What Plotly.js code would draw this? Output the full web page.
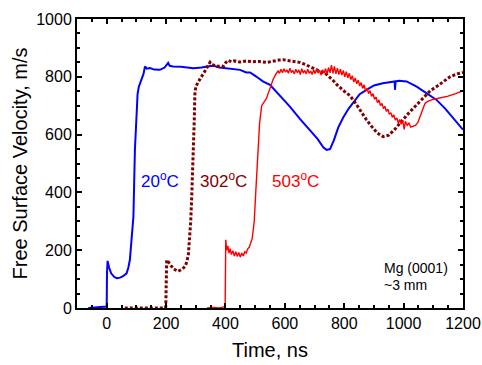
<!DOCTYPE html>
<html>
<head>
<meta charset="utf-8">
<script src="https://cdn.plot.ly/plotly-3.0.1.min.js"></script>
<style>html,body{margin:0;padding:0;background:#fff;}#chart{width:482px;height:365px;}</style>
</head>
<body>
<div id="chart"></div>
<script>
// 20 °C (blue)
const t20 = [-62,-30,0,1,3,8,15,25,34,45,55,67,73,78,84,90,95,100,104,108,118,124,129,135,146,160,179,195,207,212,224,250,292,320,337,360,380,404,430,449,470,483,505,526,550,580,617,650,684,710,730,741,752,765,780,797,815,835,852,875,900,930,960,970,971,973,985,1010,1044,1075,1111,1140,1170,1200];
const v20 = [0,2,5,120,163,140,120,108,103,105,110,120,140,166,230,316,547,650,740,765,790,810,836,828,830,825,824,832,848,838,836,835,830,832,836,838,832,830,828,824,815,815,800,784,772,740,697,655,617,585,555,547,550,580,625,660,690,715,740,755,770,778,784,784,755,784,786,784,766,745,720,690,655,617];

// 302 °C (dark red, dotted)
const t302 = [61,100,150,196,199,200,202,207,215,225,241,255,264,270,275,279,283,286,289,292,295,297,300,307,314,322,331,340,348,355,365,375,385,393,400,409,420,430,449,470,490,514,540,560,580,595,610,630,650,670,690,710,741,760,780,800,819,840,860,875,895,912,931,950,970,988,1005,1020,1044,1065,1090,1111,1135,1156,1180,1200];
const v302 = [0,0,0,0,5,120,166,160,150,135,127,135,144,160,185,230,300,374,450,530,650,740,765,780,790,805,820,835,850,842,838,836,838,836,848,857,852,855,851,855,852,853,850,855,858,859,856,852,850,842,832,822,808,790,768,750,735,706,672,651,625,605,593,598,618,640,660,678,703,725,752,766,785,800,810,815];

// 503 °C (red)
const t503 = [338,360,380,395,399,401,404,408,412,416,420,425,430,435,440,445,450,455,460,465,470,475,480,490,497,502,505,510,515,522,538,550,560,570,
  577,582,587,592,597,602,607,612,617,622,627,632,637,642,647,652,657,662,667,672,677,682,687,692,697,702,707,712,717,722,727,732,737,742,747,752,757,762,767,772,777,782,787,792,797,802,807,812,817,822,827,832,837,842,847,852,857,862,867,872,877,882,887,892,897,902,907,912,917,922,927,932,937,942,947,952,957,962,967,972,977,982,987,992,997,1002,1006,1012,1018,1024,1032,1040,1048,1056,1064,1072,1080,1094,1110,1130,1150,1175,1200];
const v503 = [0,2,0,3,5,236,200,215,190,205,185,198,180,195,178,192,176,190,180,195,190,205,210,240,300,400,450,560,640,700,725,760,790,810,
  820,812,826,814,828,816,824,812,830,815,822,810,826,814,824,808,828,813,822,810,826,812,820,808,824,811,826,813,822,806,824,812,828,810,832,814,840,812,836,810,830,808,826,806,822,800,818,796,812,790,804,782,796,776,788,768,780,760,772,750,760,742,752,732,742,722,730,710,720,700,708,690,698,680,688,670,676,660,668,650,658,640,652,636,648,618,646,632,640,626,630,632,642,665,692,708,714,720,724,728,733,742,752];

const labels = ["20<sup>o</sup>C","302<sup>o</sup>C","503<sup>o</sup>C"];
const labelX = [178,392,636];
const labelY = [443,443,443];
const labelColors = ["#0000ff","#800000","#ff0000"];
const noteLines = ["Mg (0001)","~3 mm"];
const noteY = [139,80];

const font = "Liberation Sans, Arial, sans-serif";

const traces = [
  {x:t20, y:v20, mode:"lines", line:{color:"#0000ff", width:2}, hoverinfo:"skip"},
  {x:t302, y:v302, mode:"lines", line:{color:"#800000", width:3, dash:"3px,2px"}, hoverinfo:"skip"},
  {x:t503, y:v503, mode:"lines", line:{color:"#ff0000", width:1.4}, hoverinfo:"skip"}
];

const annotations = [];
labels.forEach((s,i)=>annotations.push({x:labelX[i], y:labelY[i], xref:"x", yref:"y", text:s, showarrow:false, font:{family:font, size:17, color:labelColors[i]}}));
noteLines.forEach((s,i)=>annotations.push({x:927, y:noteY[i], xref:"x", yref:"y", text:s, showarrow:false, xanchor:"left", font:{family:font, size:14, color:"#000"}}));

const axisCommon = {
  showgrid:false, zeroline:false, showline:true, linecolor:"#000", linewidth:2,
  mirror:"ticks", ticks:"inside", ticklen:5, tickwidth:2, tickcolor:"#000",
  tickfont:{family:font, size:16, color:"#000"}
};

const layout = {
  width:482, height:365,
  margin:{l:77, r:19, t:19, b:57},
  paper_bgcolor:"#fff", plot_bgcolor:"#fff",
  showlegend:false,
  font:{family:font, color:"#000"},
  xaxis:Object.assign({}, axisCommon, {
    range:[-100,1200], dtick:200, tick0:0,
    minor:{dtick:50, tick0:0, ticks:"inside", ticklen:3, tickwidth:2, tickcolor:"#000", showgrid:false},
    title:{text:"Time, ns", font:{family:font, size:20, color:"#000"}, standoff:12}
  }),
  yaxis:Object.assign({}, axisCommon, {
    range:[0,1000], dtick:200, tick0:0,
    minor:{dtick:50, tick0:0, ticks:"inside", ticklen:3, tickwidth:2, tickcolor:"#000", showgrid:false},
    title:{text:"Free Surface Velocity, m/s", font:{family:font, size:20, color:"#000"}, standoff:3}
  }),
  annotations:annotations
};

Plotly.newPlot("chart", traces, layout, {staticPlot:true, displayModeBar:false});
</script>
</body>
</html>
